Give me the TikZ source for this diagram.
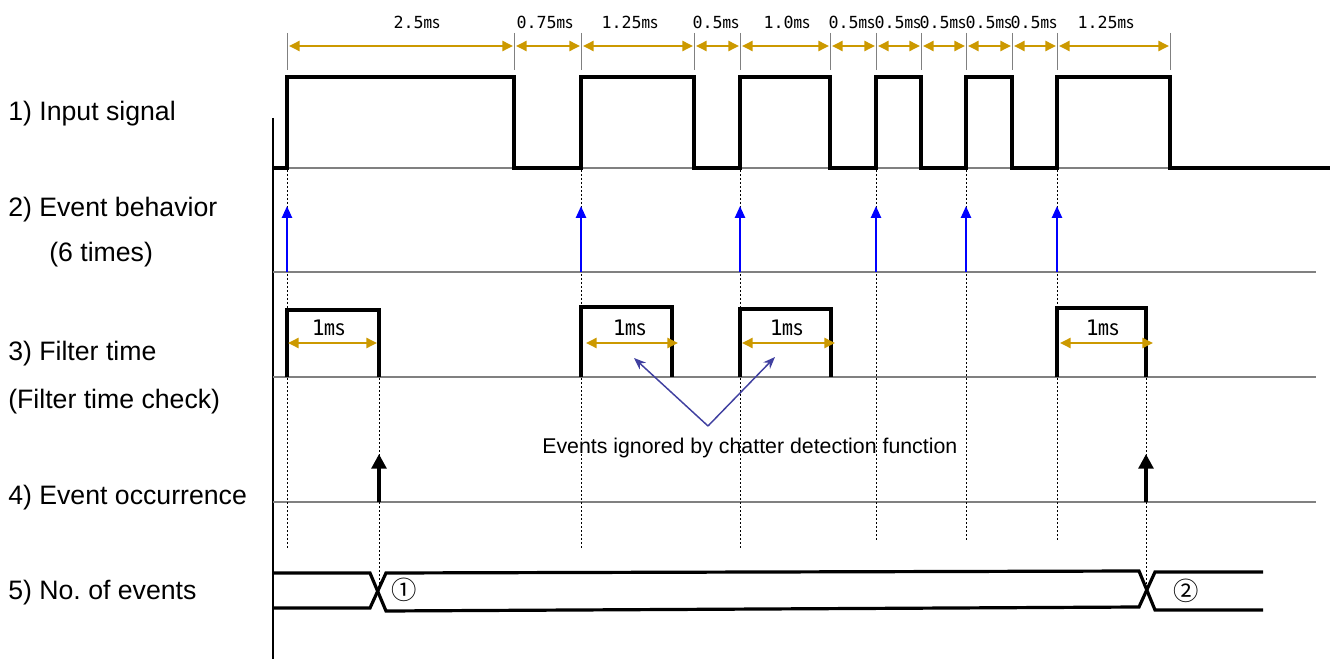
\documentclass[tikz,border=0pt]{standalone}
\usepackage{fontspec}
\setmainfont{Liberation Sans}
\newfontfamily\cjkfont{Noto Sans CJK KR}
\newfontfamily\monofont{DejaVu Sans Mono}
\usetikzlibrary{arrows.meta}
\definecolor{gold}{HTML}{CC9900}
\definecolor{gridgray}{HTML}{808080}
\definecolor{noteblue}{HTML}{4040A0}
\newcommand{\msunit}{{\cjkfont ㎳}}

\begin{document}
\begin{tikzpicture}[x=0.75pt,y=-0.75pt,
  lbl/.style={anchor=base west,inner sep=0pt,font=\fontsize{20}{22}\selectfont},
  dimlbl/.style={anchor=base,inner sep=0pt,font=\fontsize{12.5}{14}\monofont},
  filtlbl/.style={anchor=base,inner sep=0pt,font=\fontsize{16}{18}\monofont},
  notelbl/.style={anchor=base west,inner sep=0pt,font=\fontsize{16}{18}\selectfont},
  circlbl/.style={inner sep=0pt,font=\fontsize{19}{20}\cjkfont},
  dimarrow/.style={gold,line width=1.8pt,{Triangle[length=8pt,width=7.5pt]}-{Triangle[length=8pt,width=7.5pt]}},
  tickline/.style={gridgray,line width=0.75pt},
  baseline/.style={gridgray,line width=0.9pt},
  sig/.style={black,line width=2.4pt},
  evarrow/.style={blue,line width=1.9pt,-{Triangle[length=9pt,width=7.5pt]}},
  occarrow/.style={black,line width=3.5pt,-{Triangle[length=11pt,width=11pt]}},
  guide/.style={black,line width=0.6pt,dash pattern=on 1.5pt off 1.5pt},
  note/.style={noteblue,line width=1.1pt,-{Stealth[length=9pt,width=7pt]}},
]
\useasboundingbox (0,0) rectangle (1336,659);

% vertical axis
\draw[black,line width=1.5pt] (273,118) -- (273,659);

% gray baselines
\draw[baseline] (273,168) -- (1330,168);
\draw[baseline] (273,272) -- (1316,272);
\draw[baseline] (273,377) -- (1316,377);
\draw[baseline] (273,502) -- (1316,502);

% dotted guides
\foreach \x in {287,581,740} \draw[guide] (\x,170) -- (\x,548);
\foreach \x in {876,966,1057} \draw[guide] (\x,170) -- (\x,542);
\foreach \x in {379,1146} \draw[guide] (\x,378) -- (\x,590);

% dimension ticks
\foreach \x in {287,514,581,694,740,830,876,921,966,1012,1057,1170}
  \draw[tickline] (\x,33) -- (\x,70);

% dimension arrows
\foreach \a/\b in {287/514,514/581,581/694,694/740,740/830,830/876,876/921,921/966,966/1012,1012/1057,1057/1170}
  \draw[dimarrow] (\a+2,46) -- (\b-1,46);

% dimension labels
\foreach \x/\t [count=\i] in {417/2.5,545/0.75,630/1.25,716/0.5,787/1.0,852/0.5,898/0.5,943/0.5,989/0.5,1034/0.5,1106/1.25}
  \node[dimlbl] (dim\i) at (\x,29) {\t\msunit};

% input signal
\draw[sig] (273,168) -- (287,168) -- (287,77) -- (514,77) -- (514,168) -- (581,168)
  -- (581,77) -- (694,77) -- (694,168) -- (740,168) -- (740,77) -- (830,77) -- (830,168)
  -- (876,168) -- (876,77) -- (921,77) -- (921,168) -- (966,168) -- (966,77) -- (1012,77)
  -- (1012,168) -- (1057,168) -- (1057,77) -- (1170,77) -- (1170,168) -- (1330,168);

% event behaviour arrows
\foreach \x in {287,581,740,876,966,1057}
  \draw[evarrow] (\x,272) -- (\x,206);

% filter boxes
\draw[sig] (287,377) -- (287,310) -- (379,310) -- (379,377);
\draw[sig] (581,377) -- (581,307) -- (672,307) -- (672,377);
\draw[sig] (740,377) -- (740,309) -- (831,309) -- (831,377);
\draw[sig] (1057,377) -- (1057,308) -- (1146,308) -- (1146,377);

% 1ms arrows
\draw[dimarrow] (288,343) -- (377,343);
\draw[dimarrow] (586,343) -- (678,343);
\draw[dimarrow] (742,343) -- (835,343);
\draw[dimarrow] (1060,343) -- (1153,343);
\node[filtlbl] (f1) at (329,336) {1\msunit};
\node[filtlbl] (f2) at (630,336) {1\msunit};
\node[filtlbl] (f3) at (787,336) {1\msunit};
\node[filtlbl] (f4) at (1103,336) {1\msunit};

% chatter note
\coordinate (v) at (708,426);
\coordinate (tipL) at (634,358);
\coordinate (tipR) at (775,357);
\draw[note] (v) -- (tipL);
\draw[note] (v) -- (tipR);
\node[notelbl] (note) at (542,454) {Events ignored by chatter detection function};

% event occurrence arrows
\draw[occarrow] (379,502) -- (379,454);
\draw[occarrow] (1146,502) -- (1146,454);

% number of events bus
\draw[sig] (273,573) -- (370,573) -- (386,611) -- (1139,607) -- (1155,572) -- (1263,572);
\draw[sig] (273,608) -- (370,608) -- (386,573) -- (1139,571) -- (1155,610) -- (1263,610);
\node[circlbl] (c1) at (404,590) {①};
\node[circlbl] (c2) at (1186,591) {②};

% row labels
\node[lbl] (l1) at (8,121) {1) Input signal};
\node[lbl] (l2) at (8,217) {2) Event behavior};
\node[lbl] (l2b) at (49,262) {(6 times)};
\node[lbl] (l3) at (8,361) {3) Filter time};
\node[lbl] (l3b) at (8,408) {(Filter time check)};
\node[lbl] (l4) at (8,504) {4) Event occurrence};
\node[lbl] (l5) at (8,599) {5) No.\ of events};
\end{tikzpicture}
\end{document}
